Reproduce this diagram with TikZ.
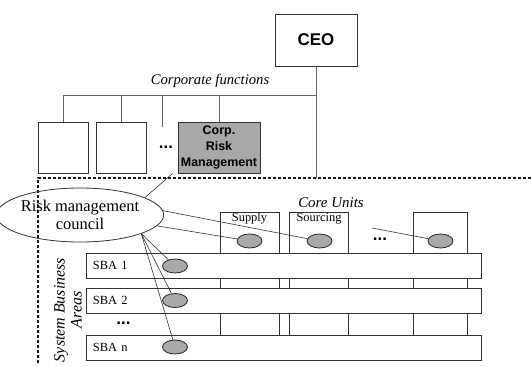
\documentclass[tikz,border=0pt]{standalone}
\usepackage{fontspec}
\setmainfont{Liberation Serif}
\setsansfont{Liberation Sans}
\usetikzlibrary{shapes.geometric, positioning}
\definecolor{BoxGray}{RGB}{168, 168, 168}
\definecolor{LineGray}{RGB}{100, 100, 100}

\begin{document}
\begin{tikzpicture}[x=1bp, y=-1bp, box/.style={draw=black!80, line width=0.9pt, minimum width=50bp, minimum height=51bp, inner sep=1bp},
  ceobox/.style={box, minimum width=82bp, minimum height=52bp, font=\sffamily\bfseries\fontsize{17}{20}\selectfont},
  riskbox/.style={box, fill=BoxGray, minimum width=82bp, align=center, font=\sffamily\bfseries\fontsize{12.5}{16.5}\selectfont},
  unit/.style={draw=black!80, line width=0.8pt, minimum width=59bp, minimum height=123bp, inner sep=0pt},
  unitlbl/.style={anchor=north, inner sep=1.5bp, font=\fontsize{12.5}{14}\selectfont},
  bar/.style={draw=black!80, line width=0.8pt, fill=white, minimum width=395bp, minimum height=25bp, inner xsep=7bp, text width=381bp, align=left, font=\fontsize{12.5}{14}\selectfont},
  blob/.style={ellipse, draw=black!85, line width=0.8pt, fill=BoxGray, minimum width=25bp, minimum height=14bp, inner sep=0pt},
  tree/.style={LineGray, line width=1pt}, link/.style={black!80, line width=0.6pt}, sep/.style={black!90, line width=1.3pt, dash pattern=on 3bp off 2bp},
  dots/.style={font=\sffamily\bfseries\fontsize{17}{17}\selectfont, inner sep=0pt}, note/.style={font=\itshape\fontsize{14.7}{17}\selectfont, align=center}]
\useasboundingbox (0,0) rectangle (531,365);
% corporate level
\node[ceobox] (ceo) at (316,40) {CEO};
\node[note] (corp) at (210,81) {Corporate functions};
\node[box] (cf1) at (63,147.5) {};
\node[box] (cf2) at (121,147.5) {};
\node[dots] (cfdots) at (166,147) {...};
\node[riskbox] (crm) at (219,147.5) {Corp.\\Risk\\Management};
\coordinate (bus) at (316,95);
\coordinate (cfend) at (162,127);
\coordinate (ceofoot) at (316,178);
\draw[tree] (ceo.south) -- (ceofoot);
\draw[tree] (bus) -| (cf1.north); \draw[tree] (bus) -| (cf2.north); \draw[tree] (bus) -| (cfend); \draw[tree] (bus) -| (crm.north);
% business level
\coordinate (sepl) at (38,178); \coordinate (sepr) at (531,178); \coordinate (sepb) at (38,365);
\draw[sep] (sepr) -- (sepl) -- (sepb);
\node[ellipse, draw=black!80, line width=0.8pt, minimum width=154bp, minimum height=54bp, inner sep=0pt, align=center, font=\fontsize{16.5}{18}\selectfont] (council) at (80,215) {Risk management\\council};
\draw[link] (council.15) -- ([xshift=-5bp]crm.south west);
\node[note, font=\itshape\fontsize{15}{17}\selectfont] (core) at (331,203) {Core Units};
\node[unit] (supply) at (249.5,273.5) {};
\node[unit] (sourcing) at (319,273.5) {};
\node[unit, minimum width=54bp] (cun) at (440,273.5) {};
\node[unitlbl] (supplylbl) at (supply.north) {Supply};
\node[unitlbl] (sourcinglbl) at (sourcing.north) {Sourcing};
\node[dots] (cudots) at (380,239) {...};
\node[bar] (sba1) at (283.5,265.5) {SBA 1};
\node[bar] (sba2) at (283.5,300.5) {SBA 2};
\node[bar] (sban) at (283.5,347.5) {SBA n};
\node[dots] (sbadots) at (123.5,323) {...};
\node[note, rotate=90, font=\itshape\fontsize{16}{17}\selectfont] (sbaname) at (68,310) {System Business\\Areas};
\node[blob] (d1) at (249.5,241) {};
\node[blob] (d2) at (319.5,241) {};
\node[blob] (dn) at (440.5,241) {};
\node[blob] (s1) at (175,266) {};
\node[blob] (s2) at (175,300.5) {};
\node[blob] (sn) at (175,347) {};
\coordinate (cunin) at (372,228);
\draw[link] (council.3) -- (d2);
\draw[link] (council.-8) -- (d1);
\draw[link] (cunin) -- (dn);
\draw[link] (council.-17) -- (s1); \draw[link] (council.-17) -- (s2); \draw[link] (council.-17) -- (sn);
\end{tikzpicture}
\end{document}
